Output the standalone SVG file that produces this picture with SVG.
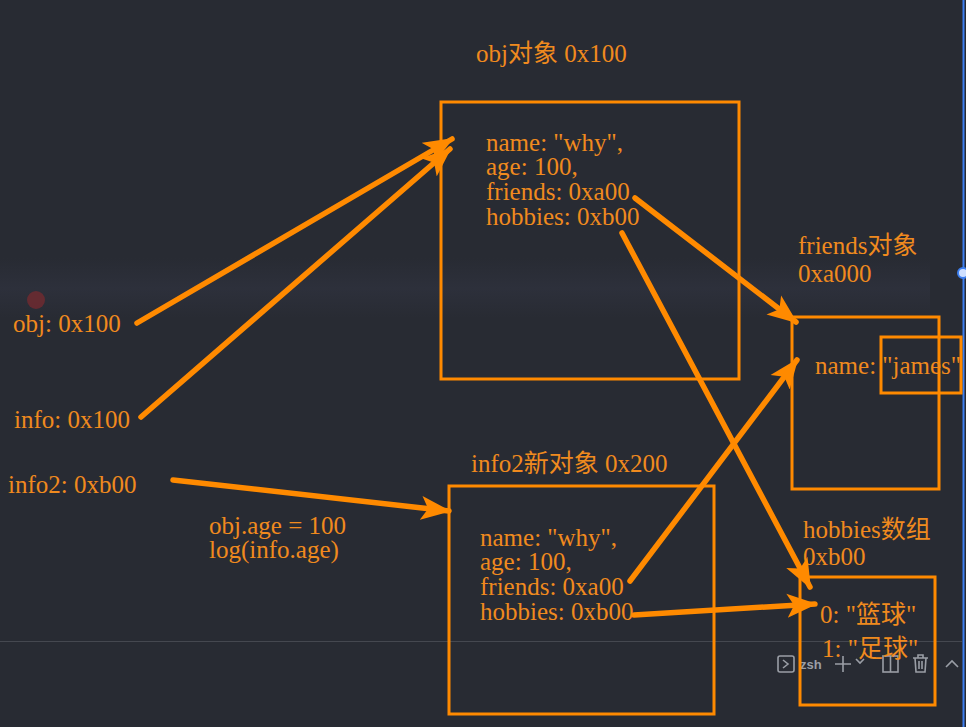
<svg xmlns="http://www.w3.org/2000/svg" width="966" height="727" viewBox="0 0 966 727">
<style>
.t{font-family:"Liberation Serif","Noto Sans CJK SC",serif;font-size:25px;fill:#f08a1e}
.box{fill:none;stroke:#ff8a00;stroke-width:3}
.c{stroke:#ff8a00;stroke-width:5.5;stroke-linecap:round;fill:none;marker-end:url(#ah)}
.ui{fill:none;stroke:#9a9ea6;stroke-width:1.6}
</style>
<defs>
<marker id="ah" markerUnits="userSpaceOnUse" markerWidth="32" markerHeight="26" viewBox="0 0 32 26" refX="28" refY="13" orient="auto">
<path d="M0,1 L30,13 L0,25 L7,13 Z" fill="#ff8a00"/>
</marker>
<linearGradient id="band" x1="0" y1="0" x2="0" y2="1">
<stop offset="0" stop-color="#2d303b" stop-opacity="0"/>
<stop offset="0.5" stop-color="#2d303b" stop-opacity="1"/>
<stop offset="1" stop-color="#2d303b" stop-opacity="0"/>
</linearGradient>
</defs>
<rect width="966" height="727" fill="#282b33"/>
<rect x="0" y="258" width="930" height="60" fill="url(#band)"/>
<line x1="0" y1="641.5" x2="962" y2="641.5" stroke="#454850" stroke-width="1"/>
<circle cx="36" cy="300" r="9" fill="#6e2a30" opacity="0.85"/>
<line x1="963.5" y1="0" x2="963.5" y2="727" stroke="#3d7ff0" stroke-width="2"/>
<circle cx="963" cy="273" r="5" fill="#cfe0ff" stroke="#3d7ff0" stroke-width="2"/>

<g id="terminal-bar">
<rect x="778" y="656" width="16" height="16" rx="2" class="ui"/>
<path d="M783,660 L788,664 L783,668" class="ui"/>
<text x="800" y="669" font-family="Liberation Sans,sans-serif" font-size="13" font-weight="bold" fill="#9a9ea6">zsh</text>
<path d="M843,656 V672 M835,664 H851" class="ui"/>
<path d="M856,659 L860,663 L864,659" class="ui"/>
<rect x="883" y="656" width="15" height="16" class="ui"/>
<line x1="890.5" y1="656" x2="890.5" y2="672" class="ui"/>
<path d="M913,658 H928 M918,658 V655 H923 V658 M915,658 L916,672 H925 L926,658 M919,661 V669 M922,661 V669" class="ui"/>
<path d="M946,667 L952,661 L958,667" class="ui"/>
</g>

<g id="obj-object">
<text class="t" x="476" y="62">obj对象 0x100</text>
<rect class="box" x="441" y="102" width="298" height="277"/>
<text class="t" x="486" y="151">name: "why",</text>
<text class="t" x="486" y="175">age: 100,</text>
<text class="t" x="486" y="200">friends: 0xa00</text>
<text class="t" x="486" y="225">hobbies: 0xb00</text>
</g>

<g id="friends-object">
<text class="t" x="798" y="254">friends对象</text>
<text class="t" x="798" y="282">0xa000</text>
<rect class="box" x="792" y="317" width="147" height="172"/>
<text class="t" x="815" y="374">name: "james"</text>
<rect class="box" x="881" y="337" width="80" height="56"/>
</g>

<g id="info2-object">
<text class="t" x="471" y="472">info2新对象 0x200</text>
<rect class="box" x="449" y="486" width="265" height="228"/>
<text class="t" x="480" y="546">name: "why",</text>
<text class="t" x="480" y="570">age: 100,</text>
<text class="t" x="480" y="595">friends: 0xa00</text>
<text class="t" x="480" y="620">hobbies: 0xb00</text>
</g>

<g id="hobbies-array">
<text class="t" x="803" y="538">hobbies数组</text>
<text class="t" x="803" y="565">0xb00</text>
<rect class="box" x="800" y="577" width="135" height="128"/>
<text class="t" x="820" y="623">0: "篮球"</text>
<text class="t" x="822" y="657">1: "足球"</text>
</g>

<g id="var-obj"><text class="t" x="13" y="332">obj: 0x100</text></g>
<g id="var-info"><text class="t" x="14" y="428">info: 0x100</text></g>
<g id="var-info2"><text class="t" x="8" y="493">info2: 0xb00</text></g>
<g id="note">
<text class="t" x="209" y="534">obj.age = 100</text>
<text class="t" x="209" y="558">log(info.age)</text>
</g>

<g id="connectors">
<line class="c" x1="137" y1="323" x2="452" y2="139"/>
<line class="c" x1="141" y1="417" x2="450" y2="149"/>
<line class="c" x1="173" y1="480" x2="449" y2="511"/>
<line class="c" x1="635" y1="198" x2="796" y2="322"/>
<line class="c" x1="622" y1="233" x2="810" y2="587"/>
<line class="c" x1="630" y1="581" x2="797" y2="360"/>
<line class="c" x1="634" y1="615" x2="815" y2="604"/>
</g>
</svg>
